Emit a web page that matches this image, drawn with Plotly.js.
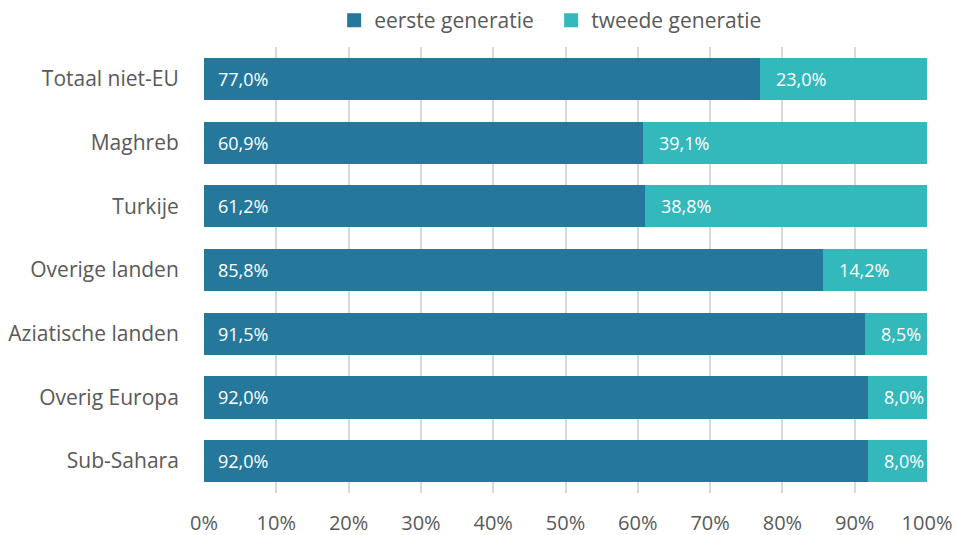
<!DOCTYPE html>
<html>
<head>
<meta charset="utf-8">
<script src="https://cdn.plot.ly/plotly-3.0.1.min.js"></script>
<style>html,body{margin:0;padding:0;background:#fff;}#chart{width:958px;height:535px;}</style>
</head>
<body>
<div id="chart"></div>
<script>
const categories = ["Totaal niet-EU", "Maghreb", "Turkije", "Overige landen", "Aziatische landen", "Overig Europa", "Sub-Sahara"];
const eersteGeneratie = [77.0, 60.9, 61.2, 85.8, 91.5, 92.0, 92.0];
const tweedeGeneratie = [23.0, 39.1, 38.8, 14.2, 8.5, 8.0, 8.0];
const seriesNames = ["eerste generatie", "tweede generatie"];
const xTicks = [0, 10, 20, 30, 40, 50, 60, 70, 80, 90, 100];

const fmt = v => v.toFixed(1).replace('.', ',') + '%';
const colors = ["#25789b", "#33b8bc"];

const traces = [
  {type: 'bar', orientation: 'h', name: seriesNames[0], y: categories, x: eersteGeneratie,
   marker: {color: colors[0], line: {color: colors[0], width: 2}}, hoverinfo: 'none'},
  {type: 'bar', orientation: 'h', name: seriesNames[1], y: categories, x: tweedeGeneratie,
   marker: {color: colors[1], line: {color: colors[1], width: 2}}, hoverinfo: 'none'}
];

const annotations = [];
categories.forEach((c, i) => {
  annotations.push({x: 0, y: c, xref: 'x', yref: 'y', text: fmt(eersteGeneratie[i]), showarrow: false,
    xanchor: 'left', xshift: 12, font: {family: 'Open Sans', size: 18, color: '#ffffff'}});
  annotations.push({x: eersteGeneratie[i], y: c, xref: 'x', yref: 'y', text: fmt(tweedeGeneratie[i]), showarrow: false,
    xanchor: 'left', xshift: 13, font: {family: 'Open Sans', size: 18, color: '#ffffff'}});
});

const layout = {
  width: 958, height: 535,
  margin: {l: 204, r: 31, t: 47, b: 42},
  paper_bgcolor: '#ffffff', plot_bgcolor: '#ffffff',
  barmode: 'stack', bargap: 0.37,
  font: {family: 'Open Sans', color: '#595959', size: 20},
  showlegend: true,
  legend: {orientation: 'h', x: 0.18, xanchor: 'left', y: 1.0, yanchor: 'top', yref: 'container',
    font: {size: 21, color: '#595959'}, traceorder: 'normal', itemwidth: 30, entrywidth: 172},
  xaxis: {range: [0, 100], tickvals: xTicks, ticktext: xTicks.map(v => v + '%'),
    showgrid: true, gridcolor: '#d9d9d9', gridwidth: 2, zeroline: false, showline: false,
    ticks: 'outside', ticklen: 12, tickcolor: 'rgba(0,0,0,0)', fixedrange: true,
    tickfont: {size: 20, color: '#595959'}},
  yaxis: {type: 'category', categoryorder: 'array', categoryarray: categories, autorange: 'reversed',
    showgrid: false, zeroline: false, showline: false,
    ticks: 'outside', ticklen: 20, tickcolor: 'rgba(0,0,0,0)',
    tickfont: {size: 21, color: '#595959'}},
  annotations: annotations
};
Plotly.newPlot('chart', traces, layout, {displayModeBar: false, staticPlot: true});
</script>
</body>
</html>
